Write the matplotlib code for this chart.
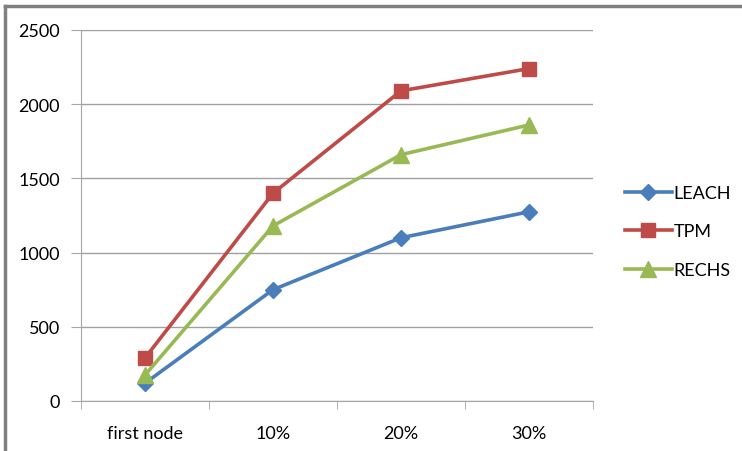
import matplotlib
matplotlib.use("Agg")
import matplotlib.pyplot as plt
from matplotlib.lines import Line2D

plt.rcParams['font.family'] = ['Lato', 'DejaVu Sans']

categories = ["first node", "10%", "20%", "30%"]
leach = [120, 750, 1100, 1275]
tpm = [290, 1400, 2090, 2240]
rechs = [175, 1180, 1660, 1860]

yticks = [0, 500, 1000, 1500, 2000, 2500]

fig = plt.figure(figsize=(7.42, 4.52), dpi=100)
ax = fig.add_axes([81 / 742, 1 - 402 / 452, (593 - 81) / 742, (402 - 31) / 452])

x = [i + 0.5 for i in range(len(categories))]
ax.plot(x, leach, color="#4A7EBB", lw=2.6, marker="D", ms=8, label="LEACH")
ax.plot(x, tpm, color="#BE4B48", lw=2.6, marker="s", ms=10, label="TPM")
ax.plot(x, rechs, color="#98B954", lw=2.6, marker="^", ms=11, label="RECHS")

ax.set_xlim(0, len(categories))
ax.set_ylim(0, 2500)
ax.set_yticks(yticks)
ax.set_yticklabels([str(v) for v in yticks], fontsize=13)
ax.set_xticks(x)
ax.set_xticklabels(categories, fontsize=13)
ax.set_xticks(range(len(categories) + 1), minor=True)
ax.tick_params(axis="x", which="major", length=0, pad=17)
ax.tick_params(axis="x", which="minor", length=6, color="#A6A6A6", direction="out")
ax.tick_params(axis="y", length=7, color="#A6A6A6", pad=8)
ax.grid(axis="y", color="#A0A0A0", lw=1)
ax.set_axisbelow(True)
for side in ["top", "right"]:
    ax.spines[side].set_visible(False)
for side in ["left", "bottom"]:
    ax.spines[side].set_color("#A6A6A6")

ax.legend(loc="center left", bbox_to_anchor=(1.03, 0.457), frameon=False,
          fontsize=13, handlelength=2.6, labelspacing=1.25, handletextpad=0.1)

# frame around the figure, top and left sides only
fig.add_artist(Line2D([5 / 742, 5 / 742], [0, 1 - 7 / 452], color="#808080", lw=2.5,
                      transform=fig.transFigure))
fig.add_artist(Line2D([5 / 742, 1], [1 - 7 / 452, 1 - 7 / 452], color="#808080", lw=2.5,
                      transform=fig.transFigure))

fig.savefig("out.png", dpi=100)
